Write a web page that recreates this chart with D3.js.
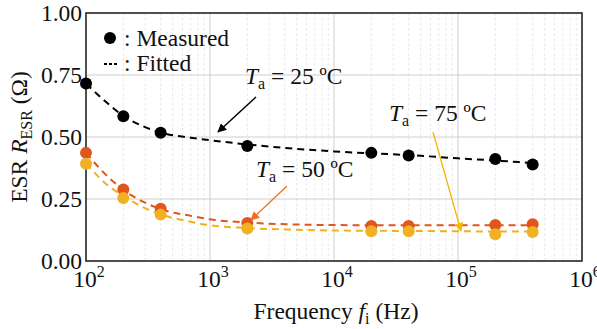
<!DOCTYPE html>
<html><head><meta charset="utf-8">
<script src="https://cdn.jsdelivr.net/npm/d3@7"></script>
<style>body{margin:0;background:#fff}svg{display:block}</style>
</head><body><svg id="c" width="597" height="329" font-family="Liberation Serif"></svg>
<script>
const freqMeasured = [100, 200, 400, 2000, 20000, 40000, 200000, 400000];
const measured25 = [0.716, 0.584, 0.517, 0.464, 0.436, 0.425, 0.411, 0.389];
const measured50 = [0.436, 0.288, 0.211, 0.153, 0.141, 0.141, 0.145, 0.148];
const measured75 = [0.392, 0.254, 0.187, 0.131, 0.120, 0.120, 0.108, 0.117];
const freqFitted = [100, 150, 200, 300, 400, 700, 1000, 2000, 5000, 10000, 20000, 40000, 100000, 200000, 400000];
const fitted25 = [0.715, 0.635, 0.585, 0.540, 0.518, 0.497, 0.487, 0.470, 0.452, 0.442, 0.434, 0.427, 0.414, 0.405, 0.395];
const fitted50 = [0.436, 0.340, 0.287, 0.235, 0.209, 0.182, 0.168, 0.155, 0.147, 0.145, 0.144, 0.144, 0.144, 0.144, 0.144];
const fitted75 = [0.393, 0.305, 0.262, 0.213, 0.188, 0.158, 0.144, 0.133, 0.126, 0.123, 0.122, 0.121, 0.120, 0.119, 0.119];
const yTicks = [0, 0.25, 0.5, 0.75, 1.0];
const xTickExps = [2, 3, 4, 5, 6];
const seriesColors = ["#000000", "#e0561c", "#f0b122"];

const FONT = "Liberation Serif";
const FS = 23.5, SUB = 16;
const svg = d3.select("#c");
const L = 86, R = 582, T = 13, B = 261;
const x = d3.scaleLog().domain([100, 1e6]).range([L, R]);
const y = d3.scaleLinear().domain([0, 1]).range([B, T]);

function txt(sel) { return sel.append("text").attr("font-family", FONT).attr("fill", "#111"); }

// minor grid
const minor = [];
for (let e = 2; e < 6; e++) for (let m = 2; m <= 9; m++) minor.push(m * Math.pow(10, e));
svg.append("g").selectAll("line").data(minor).join("line")
  .attr("x1", d => x(d)).attr("x2", d => x(d)).attr("y1", T).attr("y2", B)
  .attr("stroke", "#e4e4e4").attr("stroke-width", 0.8).attr("stroke-dasharray", "3,2");
// major grid
svg.append("g").selectAll("line").data(xTickExps).join("line")
  .attr("x1", d => x(Math.pow(10, d))).attr("x2", d => x(Math.pow(10, d))).attr("y1", T).attr("y2", B)
  .attr("stroke", "#cfcfcf").attr("stroke-width", 1);
svg.append("g").selectAll("line").data(yTicks).join("line")
  .attr("x1", L).attr("x2", R).attr("y1", d => y(d)).attr("y2", d => y(d))
  .attr("stroke", "#cfcfcf").attr("stroke-width", 1);

// axes
const yAxis = d3.axisLeft(y).tickValues(yTicks).tickFormat(d3.format(".2f")).tickSize(0).tickPadding(4);
const gy = svg.append("g").attr("transform", `translate(${L},0)`).call(yAxis);
gy.select(".domain").remove();
gy.attr("font-family", FONT).attr("font-size", FS);
gy.selectAll("text").attr("font-family", FONT).attr("font-size", FS).attr("fill", "#111").attr("dy", "0.33em");

const xAxis = d3.axisBottom(x).tickValues(xTickExps.map(e => Math.pow(10, e))).tickFormat("").tickSize(0);
const gx = svg.append("g").attr("transform", `translate(0,${B})`).call(xAxis);
gx.select(".domain").remove();
xTickExps.forEach(e => {
  const t = txt(svg).attr("x", x(Math.pow(10, e)) + 3).attr("y", 287).attr("text-anchor", "middle").attr("font-size", FS);
  t.append("tspan").text("10");
  t.append("tspan").text(e).attr("font-size", SUB).attr("dy", -10);
});

// frame
svg.append("rect").attr("x", L).attr("y", T).attr("width", R - L).attr("height", B - T)
  .attr("fill", "none").attr("stroke", "#2a2a2a").attr("stroke-width", 1.6);

// fitted curves
const line = d3.line().x((d, i) => x(freqFitted[i])).y(d => y(d)).curve(d3.curveMonotoneX);
[fitted75, fitted50, fitted25].forEach((arr, k) => {
  svg.append("path").datum(arr).attr("d", line).attr("fill", "none")
    .attr("stroke", seriesColors[2 - k]).attr("stroke-width", 2).attr("stroke-dasharray", "7,5");
});
// measured points
[measured50, measured75, measured25].forEach((arr, k) => {
  const col = [seriesColors[1], seriesColors[2], seriesColors[0]][k];
  svg.append("g").selectAll("circle").data(arr).join("circle")
    .attr("cx", (d, i) => x(freqMeasured[i])).attr("cy", d => y(d)).attr("r", 6).attr("fill", col);
});

// legend
svg.append("circle").attr("cx", 110).attr("cy", 38).attr("r", 6).attr("fill", "#000");
txt(svg).attr("x", 124).attr("y", 46).attr("font-size", FS).text(": Measured");
svg.append("line").attr("x1", 104).attr("x2", 119).attr("y1", 64).attr("y2", 64)
  .attr("stroke", "#000").attr("stroke-width", 2).attr("stroke-dasharray", "3,2");
txt(svg).attr("x", 124).attr("y", 71).attr("font-size", FS).text(": Fitted");

// arrowheads
const defs = svg.append("defs");
const arrowCols = ["#000000", "#f07020", "#f4b800"];
arrowCols.forEach((c, i) => {
  defs.append("marker").attr("id", "ah" + i).attr("viewBox", "0 0 10 10").attr("refX", 9).attr("refY", 5)
    .attr("markerWidth", 9).attr("markerHeight", 9).attr("markerUnits", "userSpaceOnUse").attr("orient", "auto")
    .append("path").attr("d", "M0,0 L10,5 L0,10 z").attr("fill", c);
});
function label(xp, yp, s) {
  const t = txt(svg).attr("x", xp).attr("y", yp).attr("font-size", FS);
  t.append("tspan").text("T").attr("font-style", "italic");
  t.append("tspan").text("a").attr("font-size", SUB).attr("dy", 5);
  t.append("tspan").text(" = " + s).attr("dy", -5);
}
label(245, 84, "25 ºC");
label(389, 121, "75 ºC");
label(256, 177, "50 ºC");
svg.append("line").attr("x1", 256).attr("y1", 97).attr("x2", 218).attr("y2", 132)
  .attr("stroke", arrowCols[0]).attr("stroke-width", 1.5).attr("marker-end", "url(#ah0)");
svg.append("line").attr("x1", 287).attr("y1", 186).attr("x2", 251).attr("y2", 220)
  .attr("stroke", arrowCols[1]).attr("stroke-width", 1.3).attr("marker-end", "url(#ah1)");
svg.append("line").attr("x1", 433).attr("y1", 132).attr("x2", 461).attr("y2", 231)
  .attr("stroke", arrowCols[2]).attr("stroke-width", 1.3).attr("marker-end", "url(#ah2)");

// axis titles
const xt = txt(svg).attr("x", 336).attr("y", 319).attr("text-anchor", "middle").attr("font-size", FS);
xt.append("tspan").text("Frequency ");
xt.append("tspan").text("f").attr("font-style", "italic");
xt.append("tspan").text("i").attr("font-size", SUB).attr("dy", 5);
xt.append("tspan").text(" (Hz)").attr("dy", -5);
const yt = txt(svg).attr("transform", "translate(27,137) rotate(-90)").attr("text-anchor", "middle").attr("font-size", FS);
yt.append("tspan").text("ESR ");
yt.append("tspan").text("R").attr("font-style", "italic");
yt.append("tspan").text("ESR").attr("font-size", SUB).attr("dy", 5);
yt.append("tspan").text(" (Ω)").attr("dy", -5);
</script></body></html>
